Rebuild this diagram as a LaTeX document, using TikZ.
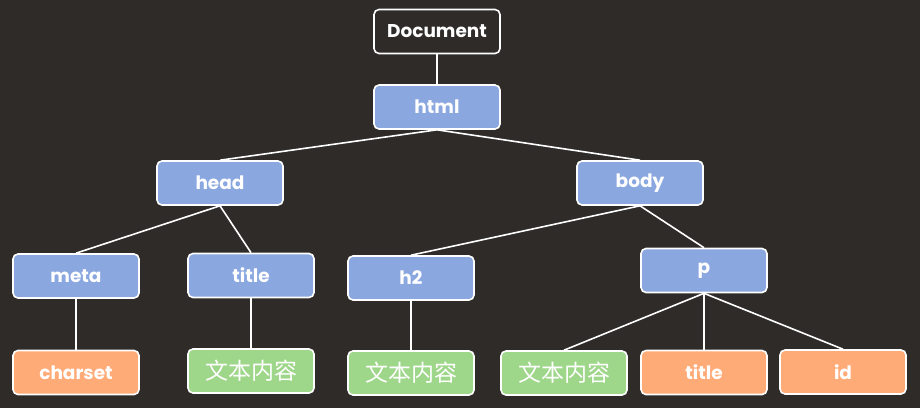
\documentclass[tikz,border=0pt]{standalone}
\usepackage{fontspec}
\setmainfont{Poppins}
\newfontfamily\cjk{Noto Sans CJK SC}
\definecolor{board}{HTML}{2E2B29}
\definecolor{bluebox}{HTML}{8AA7E0}
\definecolor{orangebox}{HTML}{FFAB78}
\definecolor{greenbox}{HTML}{9ED68A}
\tikzset{
  box/.style={draw=white, line width=1.6pt, rounded corners=5pt, minimum width=126pt, minimum height=44pt, inner sep=0pt, text=white, font=\bfseries\fontsize{18.5}{20}\selectfont},
  docbox/.style={box, fill=board},
  bbox/.style={box, fill=bluebox},
  obox/.style={box, fill=orangebox},
  gbox/.style={box, fill=greenbox, font=\cjk\fontsize{23}{25}\selectfont},
  link/.style={draw=white, line width=1.6pt}
}
\begin{document}
\begin{tikzpicture}[x=1pt, y=-1pt]
\fill[board] (0,0) rectangle (920,408);
\useasboundingbox (0,0) rectangle (920,408);
\node[docbox] (doc) at (437,31.5) {Document};
\node[bbox] (html) at (437,107) {html};
\node[bbox] (head) at (220,183) {head};
\node[bbox] (body) at (640,183) {body};
\node[bbox] (meta) at (76,276) {meta};
\node[bbox] (ttl) at (251,275.5) {title};
\node[bbox] (h2) at (411,278) {h2};
\node[bbox] (p) at (704,270.5) {p};
\node[obox] (charset) at (76,372.5) {charset};
\node[gbox] (t1) at (251,371) {文本内容};
\node[gbox] (t2) at (411,373) {文本内容};
\node[gbox] (t3) at (564,373) {文本内容};
\node[obox] (ptitle) at (704,372.5) {title};
\node[obox] (pid) at (843,372) {id};
\draw[link] (doc.south) -- (html.north);
\draw[link] (html.south) -- (head.north);
\draw[link] (html.south) -- (body.north);
\draw[link] (head.south) -- (meta.north);
\draw[link] (head.south) -- (ttl.north);
\draw[link] (body.south) -- (h2.north);
\draw[link] (body.south) -- (p.north);
\draw[link] (meta.south) -- (charset.north);
\draw[link] (ttl.south) -- (t1.north);
\draw[link] (h2.south) -- (t2.north);
\draw[link] (p.south) -- (t3.north);
\draw[link] (p.south) -- (ptitle.north);
\draw[link] (p.south) -- (pid.north);
\end{tikzpicture}
\end{document}
